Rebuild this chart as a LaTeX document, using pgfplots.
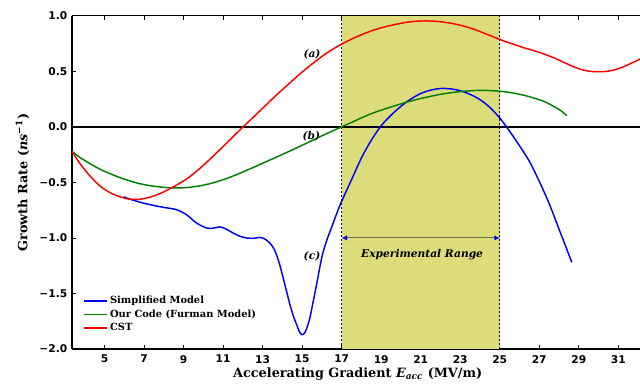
\documentclass[border=0pt]{standalone}
\usepackage{fontspec}
\setmainfont{DejaVu Serif}
\newfontfamily\tickfont{DejaVu Sans}
\usepackage{pgfplots}
\pgfplotsset{compat=1.18}
\usetikzlibrary{arrows.meta}
\definecolor{shade}{RGB}{221,220,122}
\definecolor{arrcol}{RGB}{110,110,70}
\begin{document}
\begin{tikzpicture}
\begin{axis}[
  scale only axis, width=426pt, height=250pt,
  xmin=3.35, xmax=32.1, ymin=-2, ymax=1,
  axis x line*=box, axis y line*=left,
  axis line style={-, line width=0.9pt},
  tick align=inside, major tick length=3pt,
  tick style={black, line width=0.6pt},
  xtick={5,7,...,31},
  xticklabels={5,7,9,11,13,15,17,19,21,23,25,27,29,31},
  ytick={-2,-1.5,-1,-0.5,0,0.5,1},
  yticklabels={−2.0,−1.5,−1.0,−0.5,0.0,0.5,1.0},
  ticklabel style={font=\tickfont\bfseries\fontsize{8}{9}\selectfont},
  xticklabel style={yshift=-1pt},
  clip=true,
  xlabel={Accelerating Gradient \textit{E}\textsubscript{\textit{acc}} (MV/m)},
  ylabel={Growth Rate (\textit{ns}\textsuperscript{−1})},
  every axis x label/.style={at={(axis description cs:0.503,-0.075)}, anchor=center,
    font=\bfseries\fontsize{9.6}{11}\selectfont},
  every axis y label/.style={at={(axis description cs:-0.087,0.5)}, rotate=90, anchor=center,
    font=\bfseries\fontsize{9.6}{11}\selectfont},
  legend style={at={(axis description cs:0.012,0.175)}, anchor=north west, draw=none, fill=none,
    font=\bfseries\fontsize{7.4}{9}\selectfont, row sep=-1pt},
  legend cell align=left,
  legend image post style={line width=1.2pt},
  every axis plot/.append style={line width=1.1pt},
]
\addplot[fill=shade, draw=none, forget plot] coordinates {(17,-2) (17,1) (25,1) (25,-2)} -- cycle;
\addplot[black, line width=1.1pt, forget plot] coordinates {(3.35,0) (32.1,0)};
\addplot[black, line width=1pt, dash pattern=on 1.6pt off 1.4pt, forget plot] coordinates {(17,-2) (17,1)};
\addplot[black, line width=1pt, dash pattern=on 1.6pt off 1.4pt, forget plot] coordinates {(25,-2) (25,1)};

% Simplified Model
\addplot[blue, smooth] coordinates {
(5.96,-0.63) (6.45,-0.66) (6.94,-0.685) (7.45,-0.706) (7.96,-0.724) (8.63,-0.745)
(9.14,-0.79) (9.65,-0.865) (10.15,-0.91) (10.5,-0.912) (10.83,-0.90) (11.15,-0.92)
(11.5,-0.955) (11.85,-0.985) (12.18,-1.0) (12.55,-1.003) (12.86,-0.995) (13.12,-1.01)
(13.36,-1.045) (13.55,-1.09) (13.7,-1.15) (13.87,-1.245) (14.04,-1.36) (14.21,-1.48)
(14.38,-1.60) (14.55,-1.70) (14.72,-1.78) (14.85,-1.84) (14.97,-1.87) (15.1,-1.86)
(15.22,-1.82) (15.39,-1.72) (15.55,-1.58) (15.75,-1.40) (16.0,-1.17) (16.25,-1.02)
(16.5,-0.90) (16.75,-0.78) (17.0,-0.67) (17.5,-0.475) (18.0,-0.28) (18.5,-0.12)
(19.0,0.01) (19.5,0.105) (20.0,0.185) (20.5,0.25) (21.0,0.30) (21.5,0.33) (22.0,0.345)
(22.5,0.342) (23.0,0.325) (23.5,0.292) (24.0,0.245) (24.5,0.175) (25.0,0.08)
(25.5,-0.04) (26.0,-0.17) (26.5,-0.31) (27.0,-0.49) (27.5,-0.69) (28.0,-0.92) (28.65,-1.22)};
\addlegendentry{Simplified Model}

% Our Code (Furman Model)
\addplot[color={rgb,255:red,0;green,128;blue,0}, smooth] coordinates {
(3.35,-0.22) (3.75,-0.275) (4.25,-0.33) (4.75,-0.38) (5.25,-0.42) (5.75,-0.455)
(6.25,-0.485) (6.75,-0.51) (7.25,-0.528) (7.75,-0.54) (8.25,-0.548) (8.75,-0.55)
(9.25,-0.545) (9.75,-0.533) (10.25,-0.515) (10.75,-0.49) (11.25,-0.46) (11.75,-0.425)
(12.25,-0.387) (12.75,-0.348) (13.25,-0.308) (13.75,-0.268) (14.25,-0.228) (14.75,-0.187)
(15.25,-0.145) (15.75,-0.102) (16.25,-0.06) (16.75,-0.02) (17.25,0.02) (17.75,0.06)
(18.25,0.10) (18.75,0.135) (19.25,0.165) (19.75,0.193) (20.25,0.22) (20.75,0.244)
(21.25,0.265) (21.75,0.284) (22.25,0.30) (22.75,0.312) (23.25,0.321) (23.75,0.327)
(24.25,0.328) (24.75,0.324) (25.25,0.316) (25.75,0.302) (26.25,0.283) (26.75,0.258)
(27.25,0.228) (27.75,0.182) (28.1,0.145) (28.4,0.10)};
\addlegendentry{Our Code (Furman Model)}

% CST
\addplot[red, smooth] coordinates {
(3.35,-0.22) (3.75,-0.33) (4.25,-0.44) (4.75,-0.53) (5.25,-0.59) (5.75,-0.628)
(6.25,-0.65) (6.75,-0.652) (7.25,-0.635) (7.75,-0.605) (8.25,-0.562) (8.75,-0.513)
(9.25,-0.457) (9.75,-0.385) (10.25,-0.305) (10.75,-0.22) (11.25,-0.133) (11.75,-0.045)
(12.25,0.04) (12.75,0.125) (13.25,0.21) (13.75,0.295) (14.25,0.375) (14.75,0.455)
(15.25,0.53) (15.75,0.60) (16.25,0.665) (16.75,0.72) (17.25,0.768) (17.75,0.81)
(18.25,0.847) (18.75,0.878) (19.25,0.903) (19.75,0.923) (20.25,0.94) (20.75,0.95)
(21.25,0.953) (21.75,0.95) (22.25,0.94) (22.75,0.925) (23.25,0.903) (23.75,0.875)
(24.25,0.84) (24.75,0.805) (25.25,0.77) (25.75,0.74) (26.25,0.71) (26.75,0.685)
(27.25,0.655) (27.75,0.62) (28.25,0.58) (28.75,0.54) (29.25,0.51) (29.75,0.497)
(30.25,0.497) (30.75,0.51) (31.25,0.54) (31.75,0.58) (32.1,0.61)};
\addlegendentry{CST}

\draw[arrcol, line width=0.8pt, {Latex[color=blue,length=4pt,width=4pt]}-{Latex[color=blue,length=4pt,width=4pt]}] (axis cs:17,-1.0) -- (axis cs:25,-1.0);
\node[font=\bfseries\itshape\fontsize{8}{9}\selectfont] at (axis cs:21.07,-1.15) {Experimental Range};
\node[font=\bfseries\itshape\fontsize{8}{9}\selectfont] at (axis cs:15.5,0.65) {(a)};
\node[font=\bfseries\itshape\fontsize{8}{9}\selectfont] at (axis cs:15.47,-0.085) {(b)};
\node[font=\bfseries\itshape\fontsize{8}{9}\selectfont] at (axis cs:15.5,-1.165) {(c)};
\coordinate (SW) at (rel axis cs:0,0);
\coordinate (NE) at (rel axis cs:1,1);
\end{axis}
\pgfresetboundingbox
\path ([xshift=-54pt,yshift=-27pt]SW) rectangle ([yshift=11.8pt]NE);
\end{tikzpicture}
\end{document}
